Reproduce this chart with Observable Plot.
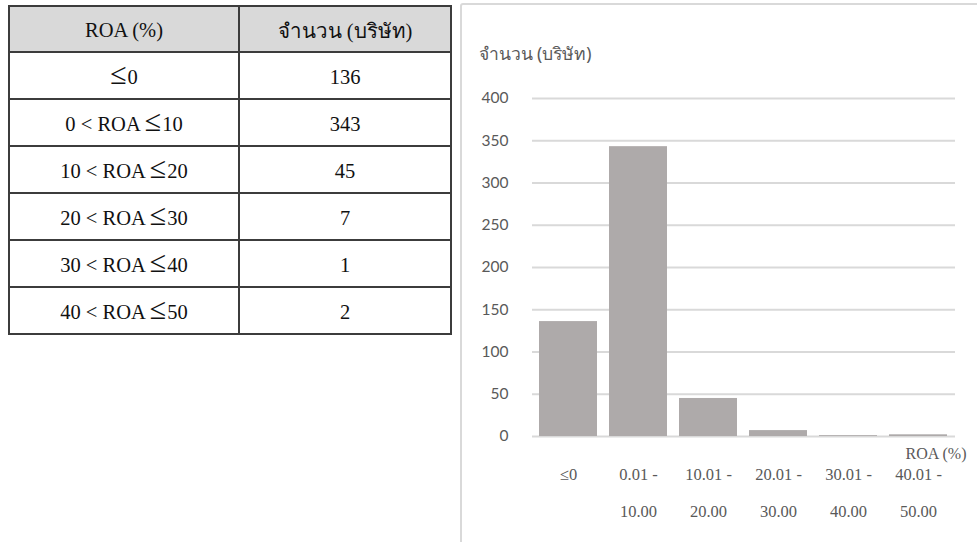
<!DOCTYPE html>
<html>
<head>
<meta charset="utf-8">
<script src="https://cdn.jsdelivr.net/npm/d3@7"></script>
<script src="https://cdn.jsdelivr.net/npm/@observablehq/plot@0.6"></script>
<style>
  html, body { margin: 0; padding: 0; background: #fff; }
  body { width: 977px; height: 542px; position: relative; overflow: hidden; }
  #table-wrap { position: absolute; left: 8px; top: 5px; }
  table { border-collapse: collapse; font-family: "Liberation Serif", "Times New Roman", serif; font-size: 20.5px; color: #111; }
  th, td { border: 2px solid #3c3c3c; text-align: center; padding: 3px 0 0 0; height: 42px; font-weight: normal; }
  th { background: #d9d9d9; height: 41px; }
  td.c1, th.c1 { width: 228px; }
  td.c2, th.c2 { width: 210px; }
  .le { font-size: 30px; line-height: 0; margin-right: 1px; }
  #chart-box { position: absolute; left: 460px; top: 3px; width: 560px; height: 600px; border: 2px solid #d9d9d9; border-radius: 3px; }
  #chart-box svg { position: absolute; left: 0; top: 0; }
</style>
</head>
<body>
<div id="table-wrap"></div>
<div id="chart-box"></div>
<script>
// ROA bands and number of companies in each band
const tableHeaders = ["ROA (%)", "จำนวน (บริษัท)"];
const roaRanges = ["≤0", "0 < ROA ≤ 10", "10 < ROA ≤ 20", "20 < ROA ≤ 30", "30 < ROA ≤ 40", "40 < ROA ≤ 50"];
const binLabels = ["≤0", "0.01 -\n10.00", "10.01 -\n20.00", "20.01 -\n30.00", "30.01 -\n40.00", "40.01 -\n50.00"];
const counts = [136, 343, 45, 7, 1, 2];
const yTicks = [0, 50, 100, 150, 200, 250, 300, 350, 400];
const yTitle = "จำนวน (บริษัท)";
const xTitle = "ROA (%)";

// Summary table
const esc = s => s.replace(/&/g, "&amp;").replace(/</g, "&lt;").replace(/≤ ?/g, '<span class="le">≤</span>');
let html = "<table><tr>" +
  `<th class="c1">${tableHeaders[0]}</th><th class="c2">${tableHeaders[1]}</th></tr>`;
roaRanges.forEach((r, i) => {
  html += `<tr><td class="c1">${esc(r)}</td><td class="c2">${counts[i]}</td></tr>`;
});
html += "</table>";
document.getElementById("table-wrap").innerHTML = html;

// Bar chart of the distribution
const data = binLabels.map((b, i) => ({bin: b, count: counts[i]}));
const grey = "#595959";

const chart = Plot.plot({
  width: 515,
  height: 537,
  marginLeft: 70,
  marginRight: 22,
  marginTop: 93,
  marginBottom: 106,
  style: {background: "transparent", overflow: "visible"},
  x: {domain: binLabels, paddingInner: 0.17, paddingOuter: 0.1, label: null},
  y: {domain: [0, 400], label: null},
  marks: [
    Plot.ruleY(yTicks, {stroke: "#d9d9d9", strokeWidth: 2}),
    Plot.barY(data, {x: "bin", y: "count", fill: "#aeaaaa"}),
    Plot.axisY({
      ticks: yTicks, tickSize: 0, tickPadding: 24, label: null,
      fontFamily: "Lato, 'Liberation Sans', sans-serif", fontSize: 15.5, fill: grey
    }),
    Plot.axisX({
      tickSize: 0, tickPadding: 18, label: null, lineHeight: 2.2,
      fontFamily: "'Liberation Serif', serif", fontSize: 16.5, fill: grey
    }),
    Plot.text([xTitle], {
      frameAnchor: "bottom-right", textAnchor: "end", dx: 11, dy: 22,
      fontFamily: "'Liberation Serif', serif", fontSize: 16, fill: grey
    }),
    Plot.text([yTitle], {
      frameAnchor: "top-left", textAnchor: "start", dx: -54, dy: -51,
      fontFamily: "'Noto Sans', 'DejaVu Sans', sans-serif", fontSize: 17.5, fill: grey
    })
  ]
});
document.getElementById("chart-box").appendChild(chart);
</script>
</body>
</html>
